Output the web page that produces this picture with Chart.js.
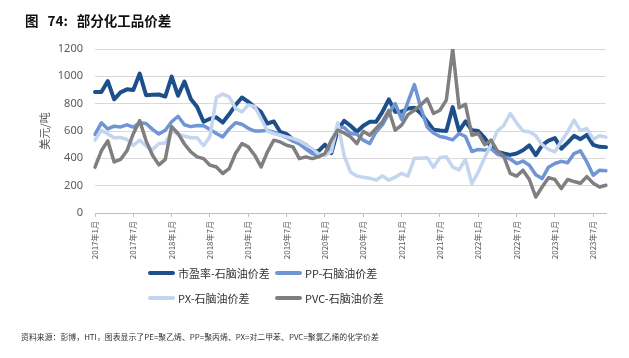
<!DOCTYPE html>
<html>
<head>
<meta charset="utf-8">
<script src="https://cdn.jsdelivr.net/npm/chart.js@4.4.1/dist/chart.umd.min.js"></script>
<style>
  body { margin: 0; background: #fff; font-family: 'Noto Sans', 'Noto Sans CJK SC', sans-serif; }
  #wrap { position: relative; width: 629px; height: 358px; overflow: hidden; }
  #chart { position: absolute; left: 0; top: 0; }
  .title { position: absolute; left: 25px; top: 10px; font-size: 13.5px; font-weight: bold; color: #111; white-space: nowrap; font-family: 'Noto Sans CJK SC', sans-serif; }
  .title span { margin-right: 9px; }
  .leg { position: absolute; display: flex; align-items: center; height: 16px; font-size: 11px; color: #333; white-space: nowrap; font-family: 'Noto Sans CJK SC', sans-serif; }
  .leg i { display: inline-block; width: 27px; height: 4px; margin-right: 3px; border-radius: 2px; }
  .src { position: absolute; left: 21px; top: 331px; font-size: 7.9px; color: #333; white-space: nowrap; font-family: 'Noto Sans CJK SC', sans-serif; }
</style>
</head>
<body>
<div id="wrap">
  <canvas id="chart" width="629" height="358"></canvas>
  <div class="title"><span>图</span><span>74:</span>部分化工品价差</div>
  <div id="legend"></div>
  <div class="src">资料来源：彭博，HTI，图表显示了PE=聚乙烯、PP=聚丙烯、PX=对二甲苯、PVC=聚氯乙烯的化学价差</div>
</div>
<script>
// months 2017-01 .. 2023-09
const startYear = 2017
const monthCount = 81
const months = []
for (let i = 0; i < monthCount; i++) {
    months.push((startYear + Math.floor(i / 12)) + '年' + (i % 12 + 1) + '月')
}

const yTicks = [0, 200, 400, 600, 800, 1000, 1200]

// 美元/吨
const pe = [
    885, 886, 965, 832, 883, 905, 900, 1020, 862, 865,
    867, 852, 998, 858, 962, 834, 775, 668, 690, 700,
    662, 722, 790, 845, 813, 776, 738, 655, 670, 593,
    577, 538, 523, 498, 448, 454, 500, 438, 606, 675,
    638, 594, 638, 667, 667, 740, 832, 740, 740, 765,
    770, 730, 670, 610, 603, 600, 775, 600, 670, 605,
    600, 550, 484, 447, 435, 425, 435, 459, 495, 423,
    496, 530, 548, 470, 515, 565, 540, 572, 498, 484,
    482
]
const pp = [
    575, 660, 615, 635, 630, 645, 628, 660, 655, 612,
    578, 606, 668, 708, 646, 632, 640, 638, 612, 582,
    557, 615, 660, 650, 620, 600, 600, 605, 592, 572,
    552, 525, 505, 470, 435, 423, 423, 484, 625, 625,
    582, 577, 533, 508, 593, 645, 728, 800, 685, 813,
    940, 770, 630, 585, 560, 550, 535, 582, 560, 450,
    465, 460, 470, 430, 415, 395, 362, 380, 350, 280,
    252, 335, 362, 378, 368, 435, 455, 374, 276, 313,
    310
]
const px = [
    533, 605, 578, 550, 553, 538, 495, 533, 490, 463,
    508, 512, 600, 575, 563, 551, 550, 492, 560, 845,
    870, 850, 765, 740, 790, 780, 690, 600, 580, 570,
    557, 545, 528, 500, 470, 432, 420, 450, 660, 420,
    300, 270, 262, 255, 240, 272, 240, 262, 290, 270,
    400, 400, 405, 335, 405, 412, 335, 315, 392, 215,
    300, 405, 500, 600, 640, 728, 660, 600, 594, 565,
    500, 465, 447, 525, 595, 679, 603, 618, 540, 565,
    555
]
const pvc = [
    335, 455, 528, 374, 392, 455, 580, 676, 528, 423,
    352, 392, 632, 582, 505, 447, 411, 398, 350, 337,
    289, 325, 435, 508, 484, 423, 337, 447, 533, 520,
    496, 484, 398, 411, 398, 411, 435, 533, 606, 586,
    557, 508, 598, 569, 618, 667, 752, 606, 643, 720,
    752, 790, 835, 728, 752, 826, 1200, 770, 795, 569,
    582, 500, 533, 455, 415, 290, 270, 313, 245, 117,
    190, 258, 246, 179, 245, 230, 218, 266, 218, 190,
    203
]

const seriesNames = ['市盈率-石脑油价差', 'PP-石脑油价差', 'PX-石脑油价差', 'PVC-石脑油价差']
const seriesColors = ['#1d4f8b', '#6f95d4', '#c3d5ef', '#7f7f7f']

Chart.defaults.font.family = "'Noto Sans', 'Noto Sans CJK SC', sans-serif"

const datasets = [pe, pp, px, pvc].map((d, i) => ({
    label: seriesNames[i],
    data: d,
    borderColor: seriesColors[i],
    backgroundColor: seriesColors[i],
    borderWidth: i === 0 ? 4 : 3.5,
    pointRadius: 0,
    tension: 0,
    borderJoinStyle: 'round',
    borderCapStyle: 'round',
    order: 4 - i   // later series on top, like the original
}))

const chart = new Chart(document.getElementById('chart'), {
    type: 'line',
    data: { labels: months, datasets: datasets },
    options: {
        responsive: false,
        animation: false,
        layout: { padding: { top: 49, right: 23, bottom: 95, left: 0 } },
        plugins: { legend: { display: false }, tooltip: { enabled: false } },
        scales: {
            x: {
                offset: false,
                grid: { drawOnChartArea: false, tickLength: 4, color: '#bfbfbf' },
                border: { color: '#bfbfbf' },
                ticks: {
                    autoSkip: false,
                    maxRotation: 90,
                    minRotation: 90,
                    padding: 4,
                    color: '#595959',
                    font: { size: 8, family: "'Noto Sans CJK SC', sans-serif" },
                    callback: function (v, i) {
                        const m = i % 12
                        return (m === 0 || m === 6) ? months[i] : null
                    }
                },
                afterFit: s => { s.height = 50 }
            },
            y: {
                min: 0,
                max: 1200,
                afterBuildTicks: s => { s.ticks = yTicks.map(v => ({ value: v })) },
                grid: { color: '#d9d9d9', drawTicks: false },
                border: { display: false },
                ticks: { padding: 12, color: '#595959', font: { size: 11 }, callback: v => String(v) },
                title: {
                    display: true,
                    text: '美元/吨',
                    color: '#595959',
                    font: { size: 11, family: "'Noto Sans CJK SC', sans-serif" },
                    padding: { top: 38, bottom: 0 }
                },
                afterFit: s => { s.width = 95 }
            }
        }
    }
})

// legend in two rows, two columns
const legPos = [[148, 265], [275, 265], [148, 290], [275, 290]]
const legend = document.getElementById('legend')
chart.data.datasets.forEach((ds, i) => {
    const el = document.createElement('div')
    el.className = 'leg'
    el.style.left = legPos[i][0] + 'px'
    el.style.top = legPos[i][1] + 'px'
    el.innerHTML = '<i style="background:' + ds.borderColor + '"></i>' + ds.label
    legend.appendChild(el)
})
</script>
</body>
</html>
